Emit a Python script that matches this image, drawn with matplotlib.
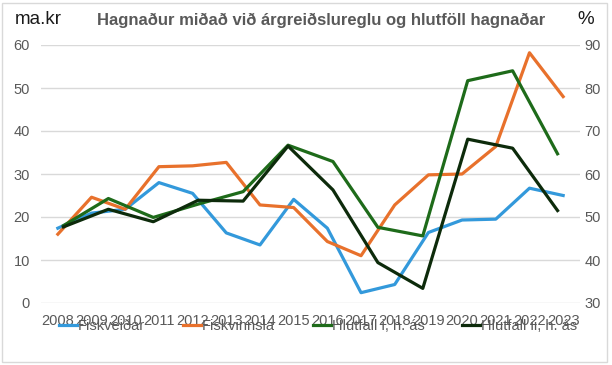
import matplotlib
matplotlib.use("Agg")
import matplotlib.pyplot as plt
import matplotlib.patches as patches
import numpy as np

plt.rcParams['font.family'] = ['Liberation Sans', 'DejaVu Sans']

years = [str(y) for y in range(2008, 2024)]
fiskveidar = [17.4, 20.9, 21.8, 28.0, 25.5, 16.3, 13.5, 24.1,
              17.4, 2.4, 4.3, 16.4, 19.3, 19.5, 26.7, 25.0]
fiskvinnsla = [16.0, 24.6, 21.8, 31.7, 31.9, 32.7, 22.8, 22.2,
               14.3, 11.0, 22.8, 29.8, 30.0, 36.4, 58.2, 48.0]
# hlutföll eru á hægri ás og með 12 punkta
hlutfall_i = [48.0, 54.3, 49.9, 53.0, 55.9, 66.7,
              62.9, 47.6, 45.6, 81.7, 84.0, 64.7]
hlutfall_ii = [47.7, 51.8, 48.9, 53.9, 53.7, 66.5,
               56.3, 39.4, 33.4, 68.1, 66.0, 51.5]

c_blue = '#3399DB'
c_orange = '#E8712C'
c_green = '#1E6B1A'
c_dark = '#0D2B0B'
grey = '#595959'

fig = plt.figure(figsize=(6.12, 3.65), dpi=100)
fig.add_artist(patches.Rectangle((0.004, 0.008), 0.988, 0.984, transform=fig.transFigure,
                                 fill=False, edgecolor='#D9D9D9', linewidth=1))

ax = fig.add_axes([41/612, 1-303/365, 539/612, 258/365])
ax2 = ax.twinx()
ax3 = ax2.twiny()

x = np.arange(len(years))
ax.plot(x, fiskveidar, color=c_blue, lw=2.3, label='Fiskveiðar')
ax.plot(x, fiskvinnsla, color=c_orange, lw=2.3, label='Fiskvinnsla')
x2 = np.arange(len(hlutfall_i))
l3, = ax3.plot(x2, hlutfall_i, color=c_green, lw=2.3, label='Hlutfall i, h. ás')
l4, = ax3.plot(x2, hlutfall_ii, color=c_dark, lw=2.3, label='Hlutfall ii, h. ás')

ax.set_xlim(-0.5, len(years) - 0.5)
ax3.set_xlim(-0.5, len(hlutfall_i) - 0.5)
ax.set_ylim(0, 60)
ax2.set_ylim(30, 90)
ax3.set_ylim(30, 90)
ax.set_yticks(range(0, 61, 10))
ax2.set_yticks(range(30, 91, 10))
ax.set_xticks(x)
ax.set_xticklabels(years)
ax.grid(axis='y', color='#D9D9D9', lw=1)
ax.set_axisbelow(True)

for a in (ax, ax2, ax3):
    for s in a.spines.values():
        s.set_visible(False)
ax3.set_xticks([])
ax.tick_params(axis='both', length=0, colors=grey, labelsize=10.5)
ax.tick_params(axis='y', pad=8)
ax.tick_params(axis='x', pad=8)
ax2.tick_params(axis='y', length=0, colors=grey, labelsize=10.5, pad=3)

fig.text(15/612, 1-20/365, 'ma.kr', fontsize=13.5, va='center', ha='left', color='#1a1a1a')
fig.text(594/612, 1-20/365, '%', fontsize=13.5, va='center', ha='right', color='#1a1a1a')
fig.text(321/612, 1-20/365, 'Hagnaður miðað við árgreiðslureglu og hlutföll hagnaðar',
         fontsize=12, fontweight='bold', va='center', ha='center', color=grey)

h1, lab1 = ax.get_legend_handles_labels()
fig.legend(h1 + [l3, l4], lab1 + [l3.get_label(), l4.get_label()],
           loc='center', bbox_to_anchor=(318/612, 1-326/365), ncol=4, frameon=False,
           fontsize=10.5, handlelength=1.25, handletextpad=0.05, columnspacing=2.6,
           labelcolor=grey)

fig.savefig('out.png', dpi=100)
